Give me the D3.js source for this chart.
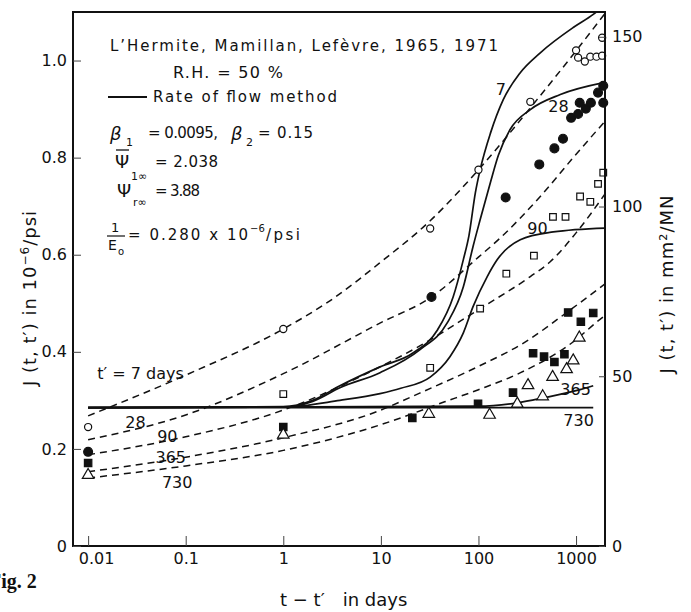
<!DOCTYPE html>
<html>
<head>
<meta charset="utf-8">
<script src="https://cdn.jsdelivr.net/npm/d3@7/dist/d3.min.js"></script>
<style>
  body { margin: 0; background: #fff; }
  svg text { font-family: 'DejaVu Sans', 'Liberation Sans', sans-serif; fill: #111; }
</style>
</head>
<body>
<svg width="691" height="612"></svg>
<script>
// axis ticks
var xTicks = [0.01, 0.1, 1, 10, 100, 1000];
var xTickLabels = ['0.01', '0.1', '1', '10', '100', '1000'];
var yTicks = [0, 0.2, 0.4, 0.6, 0.8, 1.0];
var yTickLabels = ['0', '0.2', '0.4', '0.6', '0.8', '1.0'];
var yRightTicks = [0, 50, 100, 150];

// age at loading t' in days
var ages = ['7', '28', '90', '365', '730'];

// rate of flow method (solid), [t - t' in days, J in 1e-6/psi]
var flow7 = [[0.01, 0.285], [1, 0.287], [2, 0.3], [3.8, 0.33], [9.8, 0.369], [21.5, 0.398], [38, 0.445], [55, 0.513], [70, 0.59], [80, 0.64], [93, 0.728], [104, 0.775], [133, 0.851], [180, 0.92], [268, 0.975], [430, 1.016], [935, 1.068], [1500, 1.095], [1980, 1.115]];
var flow28 = [[0.01, 0.285], [1, 0.286], [2, 0.298], [3.8, 0.326], [9.8, 0.357], [25, 0.404], [48, 0.46], [70, 0.534], [88, 0.617], [104, 0.672], [133, 0.75], [160, 0.805], [211, 0.858], [340, 0.899], [690, 0.93], [1980, 0.955]];
var flow90 = [[0.01, 0.285], [1, 0.286], [3.8, 0.3], [9.8, 0.314], [16, 0.325], [32, 0.348], [51, 0.39], [70, 0.439], [88, 0.493], [123, 0.555], [156, 0.59], [268, 0.631], [584, 0.647], [1980, 0.655]];
var flow365 = [[0.01, 0.285], [100, 0.288], [250, 0.295], [460, 0.305], [1100, 0.322], [1500, 0.33]];
var flow730 = [[0.01, 0.285], [1500, 0.285]];

// double power law (dashed)
var dpl7 = [[0.01, 0.268], [0.1, 0.352], [1, 0.447], [3, 0.505], [10, 0.585], [32, 0.67], [100, 0.775], [400, 0.92], [1000, 1.02], [1980, 1.097]];
var dpl28 = [[0.01, 0.219], [0.1, 0.27], [1, 0.355], [10, 0.46], [33, 0.513], [100, 0.595], [168, 0.635], [430, 0.72], [935, 0.8], [1980, 0.875]];
var dpl90 = [[0.01, 0.188], [0.1, 0.225], [1, 0.28], [10, 0.37], [23, 0.408], [104, 0.489], [340, 0.555], [540, 0.585], [1000, 0.645], [1980, 0.725]];
var dpl365 = [[0.01, 0.153], [0.1, 0.183], [1, 0.223], [10, 0.28], [25, 0.315], [100, 0.37], [300, 0.42], [815, 0.482], [1980, 0.54]];
var dpl730 = [[0.01, 0.14], [0.1, 0.165], [1, 0.197], [10, 0.25], [45, 0.297], [100, 0.322], [270, 0.357], [1000, 0.425], [1640, 0.462], [1980, 0.475]];

// measured points
var meas7 = [[0.01, 0.245], [1, 0.447], [32, 0.654], [100, 0.775], [340, 0.915], [1000, 1.021], [1050, 1.006], [1230, 0.998], [1400, 1.008], [1620, 1.008], [1850, 1.01], [1850, 1.047]];
var meas28 = [[0.01, 0.194], [33, 0.513], [190, 0.718], [420, 0.786], [600, 0.819], [735, 0.839], [890, 0.882], [1050, 0.89], [1090, 0.913], [1260, 0.901], [1420, 0.913], [1680, 0.934], [1900, 0.948], [1900, 0.913]];
var meas90 = [[1, 0.313], [32, 0.367], [104, 0.489], [193, 0.561], [370, 0.598], [580, 0.678], [780, 0.678], [1100, 0.72], [1400, 0.709], [1680, 0.746], [1900, 0.769]];
var meas365 = [[0.01, 0.171], [1, 0.245], [21, 0.264], [99, 0.293], [226, 0.316], [363, 0.397], [470, 0.39], [600, 0.379], [760, 0.395], [830, 0.481], [1120, 0.462], [1500, 0.48]];
var meas730 = [[0.01, 0.146], [1, 0.229], [31, 0.272], [130, 0.27], [250, 0.293], [322, 0.331], [455, 0.308], [575, 0.348], [800, 0.364], [935, 0.382], [1080, 0.429]];

var flowCurves = [flow7, flow28, flow90, flow365, flow730];
var dplCurves = [dpl7, dpl28, dpl90, dpl365, dpl730];

var svg = d3.select('svg');
var frame = {l: 73, r: 605, t: 12, b: 546};

var x = d3.scaleLog().domain([0.007, 1980]).range([frame.l, frame.r]);
var y = d3.scaleLinear().domain([0, 1.1]).range([frame.b, frame.t]);
// right axis in mm2/MN
var yR = d3.scaleLinear().domain([0, 1.1 * 143]).range([frame.b, frame.t]);

svg.append('defs').append('clipPath').attr('id', 'plot-clip')
  .append('rect')
  .attr('x', frame.l).attr('y', frame.t)
  .attr('width', frame.r - frame.l).attr('height', frame.b - frame.t);

var line = d3.line()
  .x(function(d) { return x(d[0]); })
  .y(function(d) { return y(d[1]); })
  .curve(d3.curveMonotoneX);

var plotG = svg.append('g').attr('clip-path', 'url(#plot-clip)');

plotG.selectAll('.dpl').data(dplCurves).enter().append('path')
  .attr('class', 'dpl')
  .attr('d', line)
  .attr('fill', 'none')
  .attr('stroke', '#111')
  .attr('stroke-width', 1.5)
  .attr('stroke-dasharray', '7,5');

plotG.selectAll('.flow').data(flowCurves).enter().append('path')
  .attr('class', 'flow')
  .attr('d', line)
  .attr('fill', 'none')
  .attr('stroke', '#111')
  .attr('stroke-width', 1.7);

// measured points
var markerSets = [
  {data: meas7, shape: d3.symbolCircle, size: 40, filled: false},
  {data: meas28, shape: d3.symbolCircle, size: 62, filled: true},
  {data: meas90, shape: d3.symbolSquare, size: 44, filled: false},
  {data: meas365, shape: d3.symbolSquare, size: 55, filled: true},
  {data: meas730, shape: d3.symbolTriangle, size: 58, filled: false}
];

markerSets.forEach(function(m) {
  svg.append('g').selectAll('path').data(m.data).enter().append('path')
    .attr('transform', function(d) { return 'translate(' + [x(d[0]), y(d[1])] + ')'; })
    .attr('d', d3.symbol().type(m.shape).size(m.size))
    .attr('fill', m.filled ? '#111' : '#fff')
    .attr('stroke', '#111')
    .attr('stroke-width', 1.2);
});

// frame
svg.append('rect')
  .attr('x', frame.l).attr('y', frame.t)
  .attr('width', frame.r - frame.l).attr('height', frame.b - frame.t)
  .attr('fill', 'none').attr('stroke', '#111').attr('stroke-width', 2);

// axes
function styleAxis(g) {
  g.select('.domain').remove();
  g.selectAll('.tick line').attr('stroke', '#444').attr('stroke-width', 1);
  g.selectAll('text').attr('font-size', 16);
}

svg.append('g')
  .attr('transform', 'translate(0,' + frame.b + ')')
  .call(d3.axisBottom(x).tickValues(xTicks)
    .tickFormat(function(d, i) { return xTickLabels[i]; })
    .tickSize(-10).tickPadding(7))
  .call(styleAxis)
  .call(function(g) { g.select('.tick text').attr('dx', 8); });

svg.append('g')
  .attr('transform', 'translate(' + frame.l + ',0)')
  .call(d3.axisLeft(y).tickValues(yTicks)
    .tickFormat(function(d, i) { return yTickLabels[i]; })
    .tickSize(-8).tickPadding(6))
  .call(styleAxis);

svg.append('g')
  .attr('transform', 'translate(' + frame.r + ',0)')
  .call(d3.axisRight(yR).tickValues(yRightTicks).tickSize(-6).tickPadding(7))
  .call(styleAxis);

// axis titles
var yTitle = svg.append('text')
  .attr('transform', 'translate(36,298) rotate(-90)')
  .attr('text-anchor', 'middle')
  .attr('font-size', 18)
  .attr('letter-spacing', 1);
yTitle.append('tspan').text('J (t, t\u2032)  in 10');
yTitle.append('tspan').attr('dy', -7).attr('font-size', 12).text('\u22126');
yTitle.append('tspan').attr('dy', 7).text('/psi');

svg.append('text')
  .attr('transform', 'translate(673,284) rotate(-90)')
  .attr('text-anchor', 'middle')
  .attr('font-size', 18)
  .attr('letter-spacing', 1)
  .text('J (t, t\u2032)  in mm\u00b2/MN');

var xTitle = svg.append('text')
  .attr('x', 280).attr('y', 606)
  .attr('font-size', 18);
xTitle.append('tspan').text('t \u2212 t\u2032');
xTitle.append('tspan').attr('dx', 18).text('in days');

svg.append('text')
  .attr('x', -11).attr('y', 588)
  .attr('font-size', 20)
  .attr('font-weight', 'bold')
  .style('font-family', "'Liberation Serif', serif")
  .text('Fig. 2');

// annotation block
function note(px, py, s, size, len) {
  var t = svg.append('text').attr('x', px).attr('y', py).attr('font-size', size).text(s);
  if (len) t.attr('textLength', len).attr('lengthAdjust', 'spacing');
  return t;
}

note(110, 51, 'L\u2019Hermite, Mamillan, Lef\u00e8vre, 1965, 1971', 15, 388);
note(173, 78, 'R.H. = 50 %', 16, 110);
svg.append('line').attr('x1', 108).attr('x2', 147).attr('y1', 97).attr('y2', 97)
  .attr('stroke', '#111').attr('stroke-width', 1.8);
note(153, 102, 'Rate of flow method', 15, 184);

note(110, 140, '\u03b2', 18).attr('font-style', 'italic');
note(126, 146, '1', 11);
note(148, 138, '= 0.0095,', 15, 70);
note(231, 140, '\u03b2', 18).attr('font-style', 'italic');
note(246, 146, '2', 11);
note(258, 138, '= 0.15', 15, 55);

note(115, 168, '\u03a8', 18);
svg.append('line').attr('x1', 116).attr('x2', 129).attr('y1', 150).attr('y2', 150)
  .attr('stroke', '#111').attr('stroke-width', 1.3);
note(131, 180, '1\u221e', 11);
note(155, 167, '= 2.038', 15, 63);

note(117, 197, '\u03a8', 18);
note(133, 206, 'r\u221e', 11);
note(155, 196, '= 3.88', 15, 45);

note(111, 232, '1', 13);
svg.append('line').attr('x1', 107).attr('x2', 125).attr('y1', 236).attr('y2', 236)
  .attr('stroke', '#111').attr('stroke-width', 1.2);
note(108, 250, 'E', 14);
note(118, 255, 'o', 10);
note(128, 240, '= 0.280 x 10', 15, 120);
note(250, 232, '\u22126', 10);
note(266, 240, '/psi', 15, 34);

// curve labels, right side
var rightLabelPos = [[150, 0.928], [520, 0.893], [316, 0.643], [690, 0.311], [740, 0.247]];
ages.forEach(function(a, i) {
  note(x(rightLabelPos[i][0]), y(rightLabelPos[i][1]), a, 16);
});

// curve labels, left side
var leftLabelPos = [[0.0124, 0.344], [0.024, 0.243], [0.051, 0.214], [0.049, 0.171], [0.057, 0.12]];
ages.forEach(function(a, i) {
  var s = i === 0 ? 't\u2032 = 7 days' : a;
  note(x(leftLabelPos[i][0]), y(leftLabelPos[i][1]), s, 16);
});
</script>
</body>
</html>
